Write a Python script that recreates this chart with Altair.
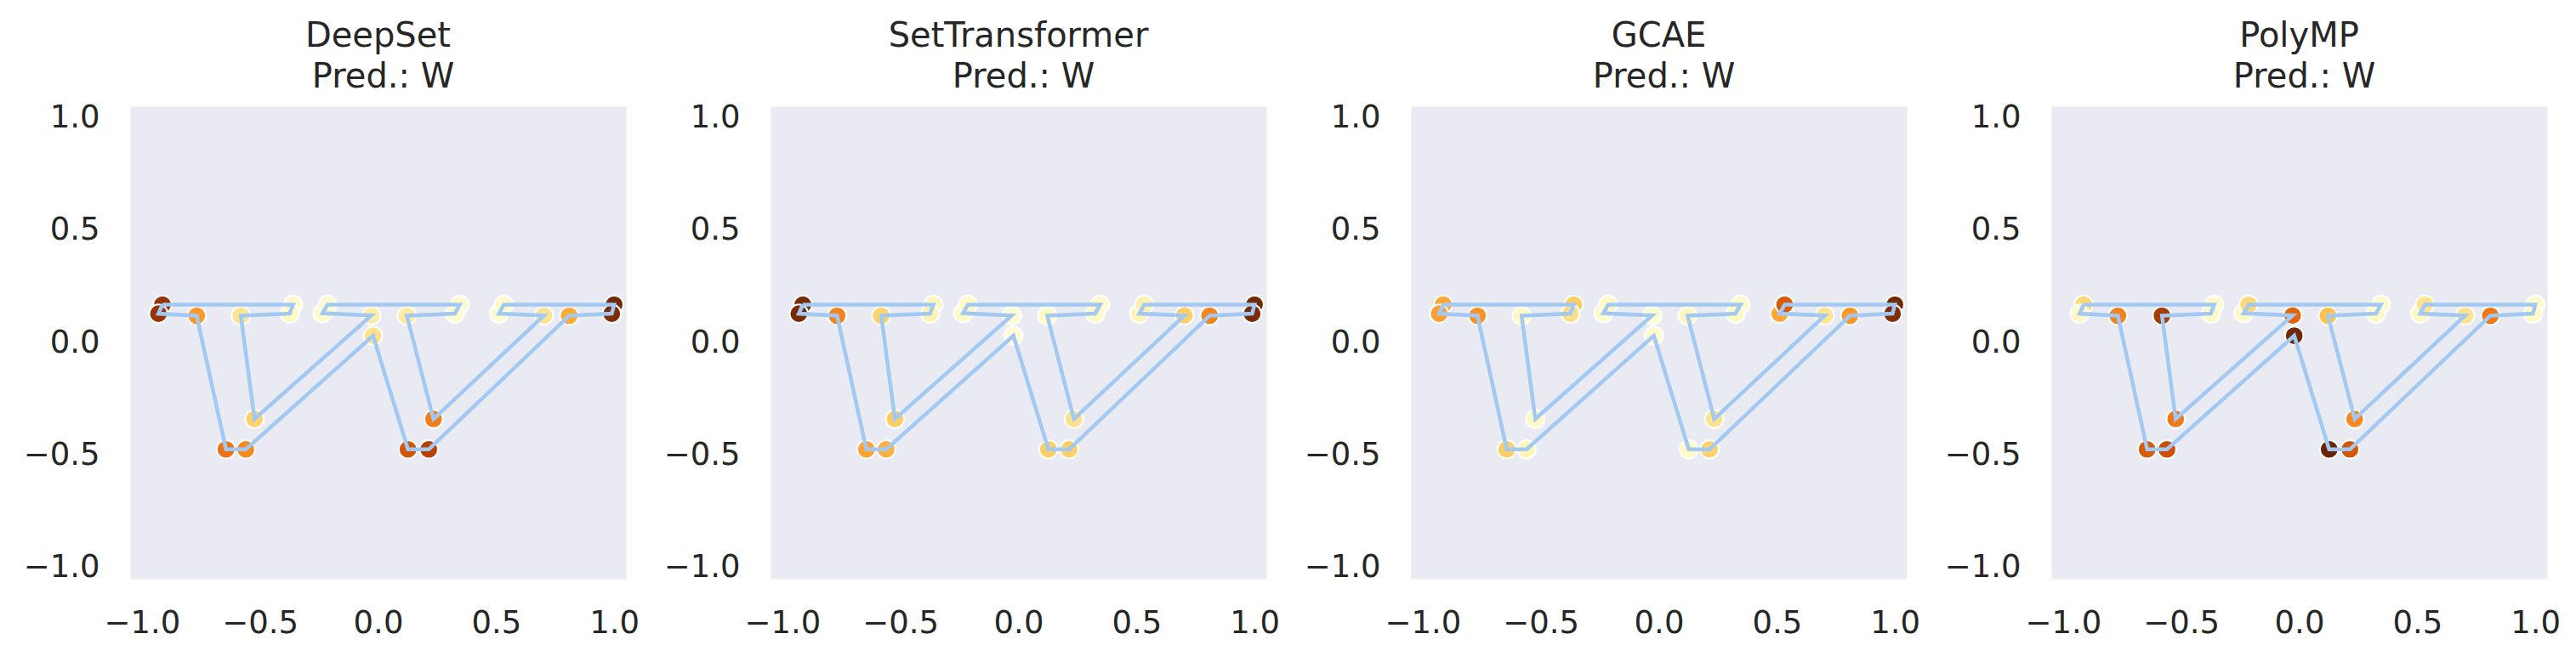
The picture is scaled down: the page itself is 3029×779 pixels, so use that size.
import altair as alt
import pandas as pd

# Polygon vertices of the letter "W" (in drawing order)
vx = [-0.913, -0.36, -0.374, -0.581, -0.523, -0.028, -0.235, -0.214, 0.346, 0.325,
      0.122, 0.235, 0.703, 0.512, 0.533, 1.0, 0.99, 0.81, 0.215, 0.127,
      -0.021, -0.56, -0.644, -0.768, -0.93]
vy = [0.168, 0.168, 0.128, 0.119, -0.34, 0.12, 0.13, 0.168, 0.168, 0.128,
      0.119, -0.34, 0.12, 0.128, 0.168, 0.168, 0.128, 0.119, -0.475, -0.475,
      0.03, -0.475, -0.475, 0.119, 0.128]

models = ["DeepSet", "SetTransformer", "GCAE", "PolyMP"]
predictions = ["W", "W", "W", "W"]

# vertex importance per model (0 = pale yellow, 1 = dark brown)
imp_deepset = [0.88, 0.08, 0.10, 0.25, 0.32, 0.18, 0.08, 0.06, 0.08, 0.07,
               0.20, 0.58, 0.25, 0.06, 0.08, 0.97, 0.94, 0.45, 0.80, 0.72,
               0.26, 0.55, 0.62, 0.50, 0.88]
imp_settransformer = [0.96, 0.12, 0.15, 0.32, 0.34, 0.06, 0.10, 0.10, 0.08, 0.10,
                      0.10, 0.26, 0.33, 0.14, 0.17, 0.97, 0.95, 0.56, 0.33, 0.33,
                      0.05, 0.43, 0.47, 0.57, 0.95]
imp_gcae = [0.46, 0.33, 0.27, 0.10, 0.10, 0.06, 0.08, 0.10, 0.08, 0.10,
            0.12, 0.25, 0.25, 0.46, 0.70, 0.97, 0.93, 0.50, 0.32, 0.10,
            0.08, 0.14, 0.33, 0.52, 0.48]
imp_polymp = [0.30, 0.08, 0.10, 0.84, 0.60, 0.66, 0.10, 0.30, 0.08, 0.10,
              0.38, 0.55, 0.25, 0.10, 0.25, 0.08, 0.10, 0.60, 0.72, 1.00,
              0.97, 0.75, 0.70, 0.57, 0.10]
importances = [imp_deepset, imp_settransformer, imp_gcae, imp_polymp]

tick_vals = [-1.0, -0.5, 0.0, 0.5, 1.0]

# YlOrBr colour map stops
ylorbr = ["#ffffe5", "#fff7bc", "#fee391", "#fec44f", "#fe9929",
          "#ec7014", "#cc4c02", "#993404", "#662506"]
ylorbr_dom = [0, 0.125, 0.25, 0.375, 0.5, 0.625, 0.75, 0.875, 1.0]

PW, PH = 583, 556

line_df = pd.DataFrame({
    "x": vx + [vx[0]],
    "y": vy + [vy[0]],
    "i": list(range(len(vx) + 1)),
})

xs = alt.Scale(domain=[-1.05, 1.05], nice=False, zero=False)
ys = alt.Scale(domain=[-1.05, 1.05], nice=False, zero=False)
xax = alt.Axis(values=tick_vals, format=".1f", title=None, labelPadding=34)
yax = alt.Axis(values=tick_vals, format=".1f", title=None, labelPadding=36)

title_style = dict(font="DejaVu Sans", fontSize=40, color="#262626",
                   align="center", baseline="alphabetic")

panels = []
for name, pred, imp in zip(models, predictions, importances):
    pdf = pd.DataFrame({"x": vx, "y": vy, "v": imp})
    pts = alt.Chart(pdf).mark_circle(
        size=470, opacity=1, stroke="white", strokeWidth=2, clip=True
    ).encode(
        x=alt.X("x:Q", scale=xs, axis=xax),
        y=alt.Y("y:Q", scale=ys, axis=yax),
        color=alt.Color("v:Q", scale=alt.Scale(domain=ylorbr_dom, range=ylorbr, interpolate="rgb"), legend=None),
    )
    ln = alt.Chart(line_df).mark_line(
        color="#a1c9f4", strokeWidth=4.5, clip=True
    ).encode(
        x=alt.X("x:Q", scale=xs, axis=xax),
        y=alt.Y("y:Q", scale=ys, axis=yax),
        order="i:Q",
    )
    t1 = alt.Chart(pd.DataFrame({"t": [name]})).mark_text(**title_style).encode(
        text="t:N", x=alt.value(PW / 2), y=alt.value(-70)
    )
    t2 = alt.Chart(pd.DataFrame({"t": ["Pred.: " + pred]})).mark_text(dx=6, **title_style).encode(
        text="t:N", x=alt.value(PW / 2), y=alt.value(-22)
    )
    panel = alt.layer(pts, ln, t1, t2).properties(width=PW, height=PH)
    panels.append(panel)

chart = alt.hconcat(*panels, spacing=170, bounds="flush").resolve_scale(
    color="shared"
).configure_view(
    fill="#eaeaf2", strokeOpacity=0
).configure_axis(
    grid=False, domain=False, ticks=False,
    labelFont="DejaVu Sans", labelFontSize=37, labelColor="#262626",
).properties(
    padding={"left": 19, "top": 15, "right": 5, "bottom": 5},
    background="white",
)

chart.save("out.html", embed_options={"renderer": "svg", "actions": False})
